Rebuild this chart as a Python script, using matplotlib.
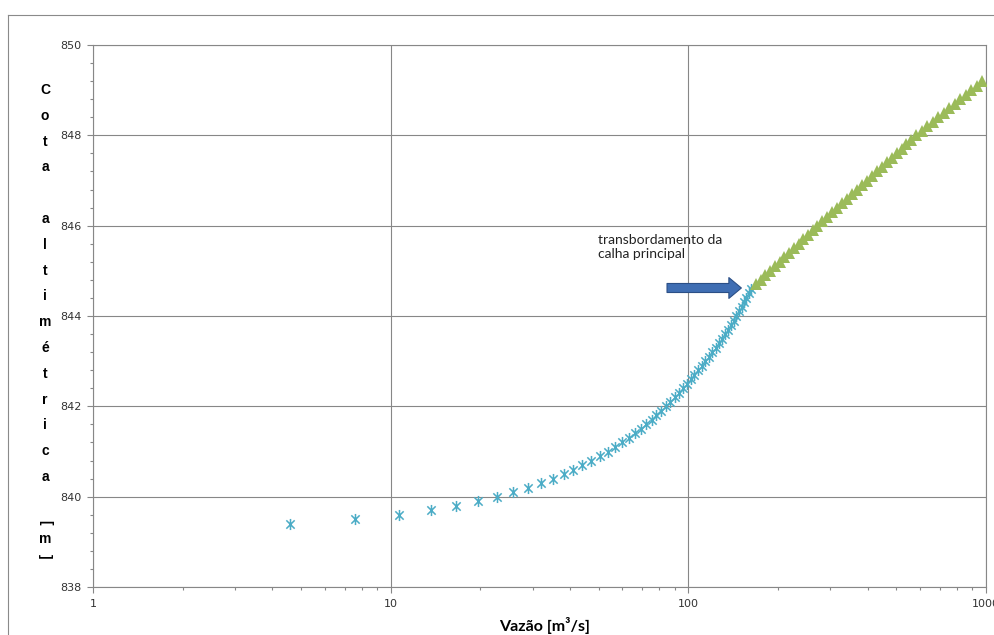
import matplotlib
matplotlib.use("Agg")
import matplotlib.pyplot as plt
from matplotlib import ticker
from matplotlib.path import Path
from matplotlib.patches import FancyArrowPatch

W, H = 995, 635

# stage-discharge points
h_main = [839.4, 839.5, 839.6, 839.7, 839.8, 839.9, 840.0, 840.1, 840.2, 840.3,
          840.4, 840.5, 840.6, 840.7, 840.8, 840.9, 841.0, 841.1, 841.2, 841.3,
          841.4, 841.5, 841.6, 841.7, 841.8, 841.9, 842.0, 842.1, 842.2, 842.3,
          842.4, 842.5, 842.6, 842.7, 842.8, 842.9, 843.0, 843.1, 843.2, 843.3,
          843.4, 843.5, 843.6, 843.7, 843.8, 843.9, 844.0, 844.1, 844.2, 844.3,
          844.4, 844.5, 844.6]
q_main = [4.6, 7.6, 10.7, 13.7, 16.6, 19.7, 22.7, 25.8, 28.9, 31.9,
          35.0, 38.1, 41.1, 44.0, 47.2, 50.3, 53.6, 56.9, 59.9, 63.1,
          66.1, 69.2, 72.3, 75.3, 78.1, 81.0, 84.2, 87.0, 90.0, 92.8,
          95.7, 98.7, 101.7, 104.8, 107.9, 111.0, 114.1, 117.2, 120.3, 123.4,
          126.5, 129.6, 132.7, 135.8, 138.9, 142.0, 145.0, 148.0, 150.9, 153.8,
          156.6, 159.4, 162.0]

h_flood = [844.7, 844.8, 844.9, 845.0, 845.1, 845.2, 845.3, 845.4, 845.5, 845.6,
           845.7, 845.8, 845.9, 846.0, 846.1, 846.2, 846.3, 846.4, 846.5, 846.6,
           846.7, 846.8, 846.9, 847.0, 847.1, 847.2, 847.3, 847.4, 847.5, 847.6,
           847.7, 847.8, 847.9, 848.0, 848.1, 848.2, 848.3, 848.4, 848.5, 848.6,
           848.7, 848.8, 848.9, 849.0, 849.1, 849.2]
q_flood = [168.7, 175.0, 181.5, 188.3, 195.3, 202.6, 210.1, 218.0, 226.1, 234.6,
           243.3, 252.4, 261.9, 271.6, 282.2, 293.3, 304.7, 316.5, 328.9, 341.7,
           355.1, 368.9, 383.3, 398.1, 413.6, 429.8, 446.6, 463.9, 482.0, 500.8,
           520.3, 540.6, 561.7, 583.4, 608.8, 635.3, 663.0, 691.8, 722.1, 753.4,
           786.3, 820.4, 856.1, 893.3, 932.1, 972.7]

x_ticks = [1, 10, 100, 1000]
y_ticks = [838, 840, 842, 844, 846, 848, 850]
ylabel_chars = ["C", "o", "t", "a", "", "a", "l", "t", "i", "m", "é", "t", "r", "i", "c", "a"]

GRID = "#878787"
BLUE = "#4BACC6"
GREEN = "#9BBB59"

# excel-like asterisk: vertical bar plus an X
star = Path([(0, -1), (0, 1), (-0.75, -0.75), (0.75, 0.75), (-0.75, 0.75), (0.75, -0.75)],
            [Path.MOVETO, Path.LINETO, Path.MOVETO, Path.LINETO, Path.MOVETO, Path.LINETO])

fig = plt.figure(figsize=(W / 100, H / 100), dpi=100)
ax = fig.add_axes([93 / W, 1 - 587 / H, (986 - 93) / W, (587 - 45) / H])

ax.plot(q_main, h_main, ls="none", marker=star, ms=8, mew=1.1, mfc="none", mec=BLUE, zorder=3)
ax.plot(q_flood, h_flood, ls="none", marker="^", ms=8, mew=0, color=GREEN, zorder=3)

ax.set_xscale("log")
ax.set_xlim(1, 1000)
ax.set_ylim(838, 850)
ax.xaxis.set_major_locator(ticker.FixedLocator(x_ticks))
ax.xaxis.set_major_formatter(ticker.FuncFormatter(lambda v, p: f"{v:g}"))
ax.xaxis.set_minor_locator(ticker.LogLocator(base=10, subs=range(2, 10)))
ax.xaxis.set_minor_formatter(ticker.NullFormatter())
ax.yaxis.set_major_locator(ticker.FixedLocator(y_ticks))
ax.yaxis.set_minor_locator(ticker.MultipleLocator(0.4))

ax.grid(True, which="major", color=GRID, lw=0.8)
ax.set_axisbelow(True)
for s in ax.spines.values():
    s.set_color(GRID)
    s.set_linewidth(0.8)
ax.tick_params(which="both", direction="out", color=GRID, width=0.8)
ax.tick_params(which="major", length=4, labelsize=8, labelcolor="#333333", pad=4.5)
ax.tick_params(which="minor", length=2.5)

# overflow arrow + note
arr = FancyArrowPatch((83, 844.62), (154, 844.62), mutation_scale=1,
                      arrowstyle="simple,head_length=9,head_width=15,tail_width=6.5",
                      fc="#3F6EB3", ec="#2B4F86", lw=0.8, zorder=4)
ax.add_patch(arr)
fig.text(598 / W, 1 - 234 / H, "transbordamento da\ncalha principal", family="Lato",
         fontsize=10, va="top", ha="left", linespacing=1.15, color="#222222")

# stacked y-axis title
for i, ch in enumerate(ylabel_chars):
    if ch:
        fig.text(45 / W, 1 - (90 + 25.8 * i) / H, ch, family="Liberation Sans", weight="bold",
                 fontsize=10, ha="center", va="center")
for ch, yy in (("[", 522), ("m", 539), ("]", 556)):
    fig.text(45 / W, 1 - yy / H, ch, family="Liberation Sans", weight="bold", fontsize=10,
             ha="center", va="center", rotation=-90 if ch != "m" else 0)

fig.text(545 / W, 1 - 625 / H, "Vazão [m³/s]", family="Lato", weight="bold", fontsize=11.5,
         ha="center", va="center")

# chart-area frame (runs off the right and bottom edges)
fig.add_artist(plt.Line2D([8 / W, 8 / W], [0, 1 - 15 / H], color="#8a8a8a", lw=0.8))
fig.add_artist(plt.Line2D([8 / W, 1], [1 - 15 / H, 1 - 15 / H], color="#8a8a8a", lw=0.8))

fig.savefig("out.png", dpi=100)
